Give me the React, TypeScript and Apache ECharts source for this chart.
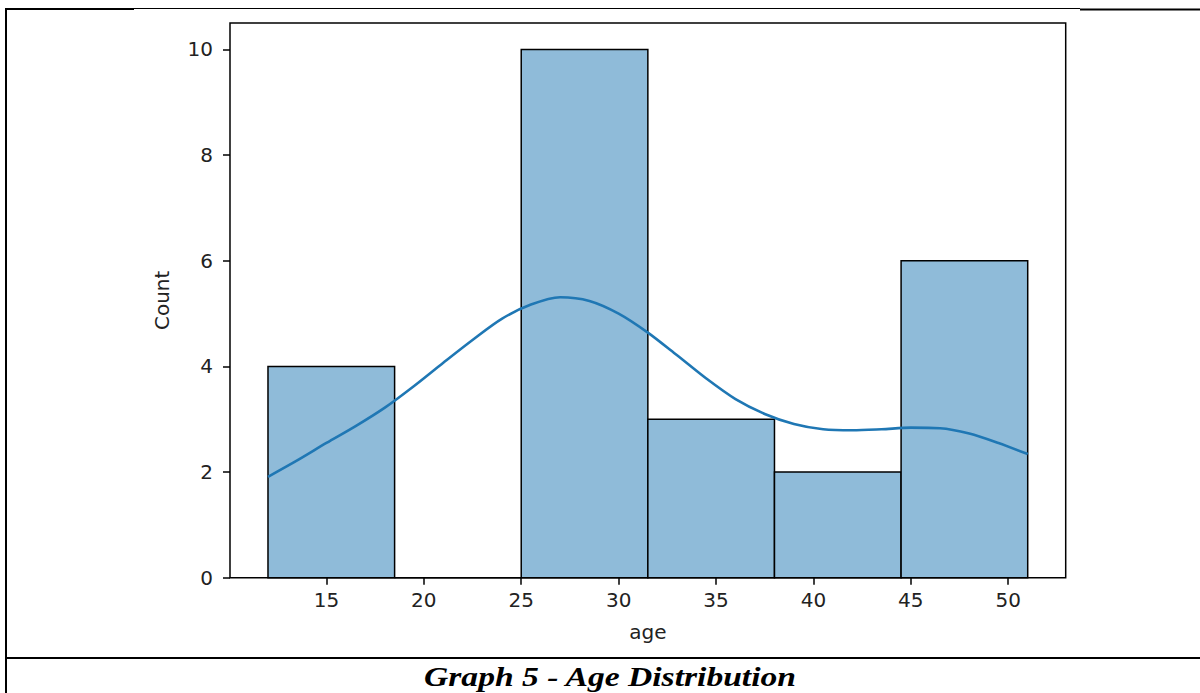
import React, { useEffect, useRef } from "react";
import * as echarts from "echarts";

// Histogram bins (age) and counts
const binEdges = [12, 18.5, 25, 31.5, 38, 44.5, 51];
const counts = [4, 0, 10, 3, 2, 6];

// KDE curve points
const kdeX = [12, 13.5, 15, 16.5, 18, 19.5, 21, 22.5, 24, 25.5, 27, 28.5, 30, 31.5, 33, 34.5, 36, 37.5, 39, 40.5, 42, 43.5, 45, 46.5, 48, 49.5, 51];
const kdeY = [1.91, 2.22, 2.55, 2.87, 3.22, 3.63, 4.07, 4.5, 4.9, 5.17, 5.31, 5.24, 5.0, 4.64, 4.21, 3.77, 3.38, 3.1, 2.91, 2.81, 2.79, 2.81, 2.84, 2.83, 2.73, 2.55, 2.34];

const xTicks = [15, 20, 25, 30, 35, 40, 45, 50];
const yTicks = [0, 2, 4, 6, 8, 10];

const xName = "age";
const yName = "Count";
const caption = "Graph 5 - Age Distribution";

export default function App() {
  const ref = useRef<HTMLDivElement>(null);
  useEffect(() => {
    document.body.style.margin = "0";
    const chart = echarts.init(ref.current!, null, { renderer: "svg" });
    const histData = counts.map((c, i) => [binEdges[i], binEdges[i + 1], c]);
    const kdeData = kdeX.map((x, i) => [x, kdeY[i]]);
    const font = "DejaVu Sans";
    chart.setOption({
      animation: false,
      backgroundColor: "#fff",
      grid: {
        left: 230,
        right: 134.3,
        top: 23,
        bottom: 115.3,
        show: true,
        borderColor: "#000",
        borderWidth: 1.5,
        containLabel: false,
      },
      xAxis: {
        type: "value",
        min: 10.05,
        max: 52.95,
        name: xName,
        nameLocation: "middle",
        nameGap: 44,
        nameTextStyle: { fontFamily: font, fontSize: 20, color: "#222" },
        splitLine: { show: false },
        axisLine: { show: false },
        axisTick: { show: true, length: 7, lineStyle: { color: "#000", width: 1.5 }, customValues: xTicks },
        axisLabel: { fontFamily: font, fontSize: 20, color: "#222", margin: 12, customValues: xTicks },
      },
      yAxis: {
        type: "value",
        min: 0,
        max: 10.5,
        name: yName,
        nameLocation: "middle",
        nameGap: 58,
        nameRotate: 90,
        nameTextStyle: { fontFamily: font, fontSize: 20, color: "#222" },
        splitLine: { show: false },
        axisLine: { show: false },
        axisTick: { show: true, length: 7, lineStyle: { color: "#000", width: 1.5 }, customValues: yTicks },
        axisLabel: { fontFamily: font, fontSize: 20, color: "#222", margin: 17, customValues: yTicks },
      },
      series: [
        {
          type: "custom",
          data: histData,
          encode: { x: [0, 1], y: 2 },
          renderItem: (params: any, api: any) => {
            const x0 = api.value(0);
            const x1 = api.value(1);
            const c = api.value(2);
            const p0 = api.coord([x0, 0]);
            const p1 = api.coord([x1, c]);
            return {
              type: "rect",
              shape: { x: p0[0], y: p1[1], width: p1[0] - p0[0], height: p0[1] - p1[1] },
              style: { fill: "#8fbbd9", stroke: "#000", lineWidth: 1.5 },
            };
          },
          z: 2,
        },
        {
          type: "line",
          data: kdeData,
          smooth: 0.3,
          symbol: "none",
          lineStyle: { color: "#1f77b4", width: 2.6 },
          z: 3,
        },
      ],
      graphic: [
        { type: "line", shape: { x1: 6, y1: 8, x2: 6, y2: 693 }, style: { stroke: "#000", lineWidth: 2 } },
        { type: "line", shape: { x1: 5, y1: 9, x2: 134, y2: 9 }, style: { stroke: "#000", lineWidth: 2 } },
        { type: "line", shape: { x1: 134, y1: 8.5, x2: 1080, y2: 8.5 }, style: { stroke: "#000", lineWidth: 1 } },
        { type: "line", shape: { x1: 1080, y1: 9.5, x2: 1200, y2: 9.5 }, style: { stroke: "#000", lineWidth: 2 } },
        { type: "line", shape: { x1: 5, y1: 658, x2: 1200, y2: 658 }, style: { stroke: "#000", lineWidth: 2 } },
        {
          type: "text",
          x: 610,
          y: 676,
          scaleX: 1.2,
          style: {
            text: caption,
            fill: "#000",
            font: "italic bold 28px 'Liberation Serif'",
            textAlign: "center",
            textVerticalAlign: "middle",
          },
        },
      ],
    });
    return () => chart.dispose();
  }, []);
  return <div ref={ref} style={{ width: 1200, height: 693 }} />;
}
